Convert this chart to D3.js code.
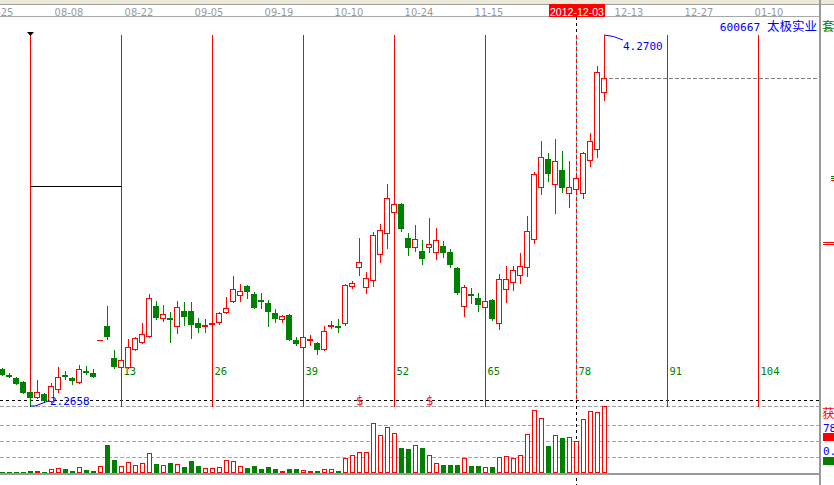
<!DOCTYPE html>
<html><head><meta charset="utf-8">
<script src="https://cdn.jsdelivr.net/npm/d3@7"></script>
<style>html,body{margin:0;padding:0;background:#fff;overflow:hidden}svg{display:block}</style>
</head><body><svg id="chart" width="834" height="485"></svg>
<script>
// ---------- data (daily K-line, index 0 = cycle start) ----------
const startIndex = -4;
const opens = [
 2.466,2.433,2.417,2.395,2.341,2.314,2.331,2.293,2.358,2.433,
 2.417,2.395,2.455,2.444,2.622,2.698,2.525,2.476,2.476,2.574,
 2.612,2.644,2.806,2.741,2.741,2.698,2.779,2.779,2.714,2.698,
 2.709,2.720,2.774,2.833,2.866,2.914,2.871,2.838,2.822,2.768,
 2.736,2.757,2.622,2.585,2.622,2.606,2.574,2.698,2.698,2.714,
 2.914,3.017,2.909,2.947,3.087,3.200,3.314,3.357,3.173,3.125,
 3.103,3.125,3.098,3.130,3.098,3.011,2.806,2.871,2.849,2.801,
 2.838,2.714,2.898,2.936,2.974,3.017,3.168,3.449,3.600,3.465,
 3.541,3.417,3.438,3.417,3.595,3.654,3.962];
const highs = [
 2.471,2.444,2.422,2.401,2.347,2.406,2.336,2.390,2.476,2.455,
 2.422,2.487,2.482,2.466,2.622,2.806,2.568,2.520,2.628,2.639,
 2.714,2.871,2.833,2.811,2.774,2.833,2.828,2.828,2.741,2.736,
 2.747,2.774,2.855,2.968,2.925,2.920,2.882,2.876,2.838,2.790,
 2.757,2.763,2.639,2.644,2.649,2.612,2.698,2.725,2.736,2.925,
 2.941,3.173,2.990,3.206,3.249,3.465,3.363,3.363,3.200,3.244,
 3.163,3.281,3.227,3.157,3.114,3.017,2.920,2.903,2.876,2.838,
 2.844,2.979,3.022,3.022,3.092,3.292,3.530,3.697,3.633,3.708,
 3.643,3.589,3.514,3.638,3.741,4.103,4.270];
const lows = [
 2.433,2.422,2.385,2.336,2.2658,2.309,2.293,2.287,2.341,2.412,
 2.385,2.390,2.439,2.422,2.622,2.628,2.471,2.471,2.471,2.568,
 2.606,2.639,2.736,2.725,2.612,2.660,2.703,2.633,2.666,2.666,
 2.687,2.709,2.768,2.828,2.833,2.849,2.795,2.795,2.698,2.720,
 2.720,2.622,2.595,2.579,2.595,2.547,2.568,2.687,2.666,2.703,
 2.903,2.974,2.876,2.914,3.044,3.119,3.308,3.211,3.082,3.103,
 3.033,3.098,3.060,3.071,3.017,2.871,2.752,2.822,2.779,2.795,
 2.730,2.682,2.828,2.893,2.930,2.968,3.146,3.411,3.481,3.308,
 3.422,3.341,3.422,3.390,3.562,3.611,3.919];
const closes = [
 2.439,2.428,2.390,2.341,2.314,2.341,2.298,2.374,2.422,2.428,
 2.406,2.466,2.450,2.428,2.622,2.644,2.482,2.514,2.585,2.633,
 2.655,2.849,2.747,2.763,2.736,2.801,2.752,2.709,2.693,2.703,
 2.714,2.768,2.795,2.898,2.887,2.887,2.801,2.833,2.779,2.741,
 2.752,2.628,2.606,2.639,2.628,2.574,2.671,2.703,2.693,2.920,
 2.930,3.044,2.957,3.190,3.217,3.390,3.357,3.227,3.125,3.168,
 3.065,3.141,3.163,3.098,3.033,2.882,2.909,2.866,2.817,2.833,
 2.741,2.952,2.952,3.001,3.022,3.211,3.519,3.611,3.525,3.589,
 3.449,3.449,3.498,3.633,3.697,4.070,4.038];
// volume (thousand lots)
const vols = [
 13,13,13,13,23,23,10,40,50,40,
 23,57,30,23,70,280,130,70,110,80,
 100,200,90,80,100,90,60,120,70,50,
 50,60,130,120,70,50,70,40,60,40,
 20,40,40,30,20,20,40,40,20,150,
 180,210,210,497,380,457,400,250,240,280,
 250,180,100,80,80,80,150,70,70,57,
 60,157,167,150,180,390,627,547,270,380,
 350,360,320,537,617,607,670];
const volGrid = [160, 320, 480];

// time axis
const dateLabels = ["07-25","08-08","08-22","09-05","09-19","10-10","10-24","11-15","12-13","12-27","01-10"];
const dateTickIdx = [-5,5,15,25,35,45,55,65,85,95,105];
const cursorIdx = 78;
const cursorDate = "2012-12-03";
// cycle (13-day) lines
const cycleIdx = [0,13,26,39,52,65,78,91,104];
// drawn horizontal segment
const drawnLevel = 3.454, drawnFrom = 0, drawnTo = 13;
// event markers on the bottom line
const eventIdx = [47, 57];
const stockTitle = ["600667", "太极实业"];

// ---------- scales ----------
const svg = d3.select('#chart');
const RED = '#ff0000', GREEN = '#008000', BLUE = '#0000ff';
const R = Math.round;
const data = opens.map((o,k)=>({i:k+startIndex, o, h:highs[k], l:lows[k], c:closes[k], v:vols[k]}));
const x = d3.scaleLinear().domain([0, 104]).range([30.5, 758.5]);
const y = d3.scaleLinear().domain([d3.min(lows), d3.max(highs)]).range([406, 35]);
const yv = d3.scaleLinear().domain([0, d3.max(vols)]).range([473, 406]);

svg.attr('shape-rendering','crispEdges');

// ---------- header ----------
svg.append('rect').attr('x',0).attr('y',0).attr('width',834).attr('height',4).attr('fill','#ece9d8');
svg.append('line').attr('x1',0).attr('x2',834).attr('y1',4.5).attr('y2',4.5).attr('stroke','#a0a0a0');
svg.append('line').attr('x1',0).attr('x2',819).attr('y1',16.5).attr('y2',16.5).attr('stroke','#a8a8a8');

svg.append('g').selectAll('text').data(dateLabels).join('text')
  .attr('x',(d,k)=>x(dateTickIdx[k])+3.5).attr('y',15.5)
  .attr('text-anchor','middle')
  .attr('font-family','"Liberation Sans Narrow","DejaVu Sans Condensed",sans-serif')
  .attr('font-size',11).attr('fill','#9a9a9a').text(d=>d);

const cx78 = x(cursorIdx);
svg.append('rect').attr('x',R(cx78)-28).attr('y',4).attr('width',56).attr('height',13).attr('fill',RED);
svg.append('text').attr('x',R(cx78)).attr('y',15.5).attr('text-anchor','middle')
  .attr('font-family','"Liberation Sans",Arial,sans-serif').attr('font-size',11)
  .attr('textLength',54).attr('lengthAdjust','spacingAndGlyphs')
  .attr('fill','#fff').text(cursorDate);

// stock title
const tt = svg.append('text').attr('x',817).attr('y',30.5).attr('text-anchor','end').attr('fill',BLUE);
tt.append('tspan').attr('font-family','"DejaVu Sans Mono",monospace').attr('font-size',11.2).text(stockTitle[0]+' ');
tt.append('tspan').attr('font-family','"Noto Sans CJK SC",sans-serif').attr('font-size',12.5).text(stockTitle[1]);

// ---------- horizontal reference lines ----------
svg.append('line').attr('x1',0).attr('x2',819).attr('y1',400.5).attr('y2',400.5)
  .attr('stroke','#000').attr('stroke-dasharray','3,3');
svg.append('line').attr('x1',0).attr('x2',819).attr('y1',406.5).attr('y2',406.5)
  .attr('stroke','#a0a0a0').attr('stroke-dasharray','4,2');
svg.append('g').selectAll('line').data(volGrid).join('line')
  .attr('x1',0).attr('x2',819).attr('y1',d=>R(yv(d))+0.5).attr('y2',d=>R(yv(d))+0.5)
  .attr('stroke','#a8a8a8').attr('stroke-dasharray','4,2');

// ---------- cycle lines ----------
svg.append('g').selectAll('line').data(cycleIdx.filter(i=>i!==cursorIdx)).join('line')
  .attr('x1',d=>x(d)).attr('x2',d=>x(d)).attr('y1',35).attr('y2',407)
  .attr('stroke',RED);
svg.append('g').selectAll('text').data(cycleIdx.filter(i=>i>0)).join('text')
  .attr('x',d=>x(d)+2).attr('y',374.5)
  .attr('font-family','"DejaVu Sans Mono",monospace').attr('font-size',10.5)
  .attr('fill',GREEN).text(d=>d);
// start marker
svg.append('path').attr('d',`M${x(0)-3.5},32L${x(0)+3.5},32L${x(0)},36Z`).attr('fill','#000').attr('shape-rendering','auto');
// drawn segment
svg.append('line').attr('x1',x(drawnFrom)).attr('x2',x(drawnTo))
  .attr('y1',R(y(drawnLevel))+0.5).attr('y2',R(y(drawnLevel))+0.5).attr('stroke','#000');

// cursor line
svg.append('line').attr('x1',cx78).attr('x2',cx78).attr('y1',35).attr('y2',400).attr('stroke','#00ffff');
svg.append('line').attr('x1',cx78).attr('x2',cx78).attr('y1',35).attr('y2',400).attr('stroke',RED).attr('stroke-dasharray','4,2');
svg.append('line').attr('x1',cx78).attr('x2',cx78).attr('y1',17).attr('y2',35).attr('stroke','#000').attr('stroke-dasharray','3,3');
svg.append('line').attr('x1',cx78).attr('x2',cx78).attr('y1',400).attr('y2',485).attr('stroke','#000').attr('stroke-dasharray','3,3');

// current price line
const last = data[data.length-1];
svg.append('line').attr('x1',x(last.i)+4).attr('x2',817)
  .attr('y1',R(y(last.c))+0.5).attr('y2',R(y(last.c))+0.5)
  .attr('stroke','#808080').attr('stroke-dasharray','4,2');

// ---------- candles ----------
const cg = svg.append('g');
const col = d => d.c >= d.o ? RED : GREEN;
cg.selectAll('line.wick').data(data).join('line').attr('class','wick')
  .attr('x1',d=>x(d.i)).attr('x2',d=>x(d.i))
  .attr('y1',d=>R(y(d.h))).attr('y2',d=>R(y(d.l))+1).attr('stroke',col);
const bodyTop = d => Math.min(R(y(d.o)),R(y(d.c)));
const bodyBot = d => Math.max(R(y(d.o)),R(y(d.c)));
const flat = data.filter(d=>bodyBot(d)-bodyTop(d)<1);
const ups = data.filter(d=>d.c>=d.o && bodyBot(d)-bodyTop(d)>=1);
const downs = data.filter(d=>d.c<d.o && bodyBot(d)-bodyTop(d)>=1);
cg.selectAll('rect.up').data(ups).join('rect').attr('class','up')
  .attr('x',d=>x(d.i)-3).attr('y',d=>bodyTop(d)+0.5).attr('width',5)
  .attr('height',d=>bodyBot(d)-bodyTop(d)).attr('fill','#fff').attr('stroke',RED);
cg.selectAll('rect.dn').data(downs).join('rect').attr('class','dn')
  .attr('x',d=>x(d.i)-3.5).attr('y',d=>bodyTop(d)).attr('width',6)
  .attr('height',d=>bodyBot(d)-bodyTop(d)+1).attr('fill',GREEN);
cg.selectAll('line.flat').data(flat).join('line').attr('class','flat')
  .attr('x1',d=>x(d.i)-3.5).attr('x2',d=>x(d.i)+2.5)
  .attr('y1',d=>bodyTop(d)+0.5).attr('y2',d=>bodyTop(d)+0.5).attr('stroke',col);

// ---------- volume ----------
const vg = svg.append('g');
const vUp = data.filter(d=>d.c>=d.o), vDn = data.filter(d=>d.c<d.o);
vg.selectAll('rect.vu').data(vUp).join('rect').attr('class','vu')
  .attr('x',d=>x(d.i)-2).attr('y',d=>R(yv(d.v))+0.5).attr('width',4)
  .attr('height',d=>Math.max(0,472-R(yv(d.v)))).attr('fill','#fff').attr('stroke',RED);
vg.selectAll('rect.vd').data(vDn).join('rect').attr('class','vd')
  .attr('x',d=>x(d.i)-2.5).attr('y',d=>R(yv(d.v))).attr('width',5)
  .attr('height',d=>473-R(yv(d.v))).attr('fill',GREEN);

// event markers
svg.append('g').selectAll('text').data(eventIdx).join('text')
  .attr('x',d=>x(d)).attr('y',405).attr('text-anchor','middle')
  .attr('font-family','"DejaVu Sans Mono",monospace').attr('font-size',12)
  .attr('fill',RED).text('$');

// ---------- high / low labels ----------
const fmt = d3.format('.4f');
const lowD = data.reduce((a,b)=>b.l<a.l?b:a), highD = data.reduce((a,b)=>b.h>a.h?b:a);
const lx = x(lowD.i), ly = y(lowD.l);
svg.append('polyline').attr('points',`${lx},${ly} ${lx+4.5},${ly} ${lx+19},${ly-5.5}`)
  .attr('fill','none').attr('stroke',BLUE).attr('shape-rendering','auto');
svg.append('text').attr('x',lx+19.5).attr('y',ly-1.5)
  .attr('font-family','"DejaVu Sans Mono",monospace').attr('font-size',11)
  .attr('fill',BLUE).text(fmt(lowD.l));
const hx = x(highD.i), hy = y(highD.h);
svg.append('polyline').attr('points',`${hx},${hy} ${hx+9},${hy+1.5} ${hx+18.5},${hy+5}`)
  .attr('fill','none').attr('stroke',BLUE).attr('shape-rendering','auto');
svg.append('text').attr('x',hx+18.5).attr('y',hy+15)
  .attr('font-family','"DejaVu Sans Mono",monospace').attr('font-size',11)
  .attr('fill',BLUE).text(fmt(highD.h));

// ---------- frame ----------
svg.append('rect').attr('x',0).attr('y',473).attr('width',819).attr('height',2).attr('fill','#999');
svg.append('rect').attr('x',819).attr('y',0).attr('width',2).attr('height',485).attr('fill','#999');

// ---------- side panel ----------
svg.append('text').attr('x',822).attr('y',31).attr('font-family','"Noto Sans CJK SC",sans-serif')
  .attr('font-size',12.5).attr('fill',GREEN).text('套');
svg.append('line').attr('x1',831).attr('x2',834).attr('y1',176.5).attr('y2',176.5).attr('stroke',GREEN);
svg.append('line').attr('x1',831).attr('x2',834).attr('y1',178.5).attr('y2',178.5).attr('stroke',GREEN);
svg.append('line').attr('x1',831).attr('x2',834).attr('y1',180.5).attr('y2',180.5).attr('stroke',RED);
svg.append('line').attr('x1',823).attr('x2',834).attr('y1',242.5).attr('y2',242.5).attr('stroke',RED);
svg.append('line').attr('x1',823).attr('x2',834).attr('y1',244.5).attr('y2',244.5).attr('stroke',RED);
svg.append('text').attr('x',822).attr('y',418).attr('font-family','"Noto Sans CJK SC",sans-serif')
  .attr('font-size',12.5).attr('fill',RED).text('获');
svg.append('text').attr('x',823).attr('y',432).attr('font-family','"DejaVu Sans Mono",monospace')
  .attr('font-size',11).attr('fill',BLUE).text('78');
svg.append('rect').attr('x',823).attr('y',433).attr('width',11).attr('height',8).attr('fill',RED);
svg.append('text').attr('x',823).attr('y',455).attr('font-family','"DejaVu Sans Mono",monospace')
  .attr('font-size',11).attr('fill',BLUE).text('0.0');
svg.append('rect').attr('x',823).attr('y',457).attr('width',11).attr('height',8).attr('fill',GREEN);
svg.append('rect').attr('x',823).attr('y',457).attr('width',1).attr('height',8).attr('fill',RED);
</script>
</body></html>
